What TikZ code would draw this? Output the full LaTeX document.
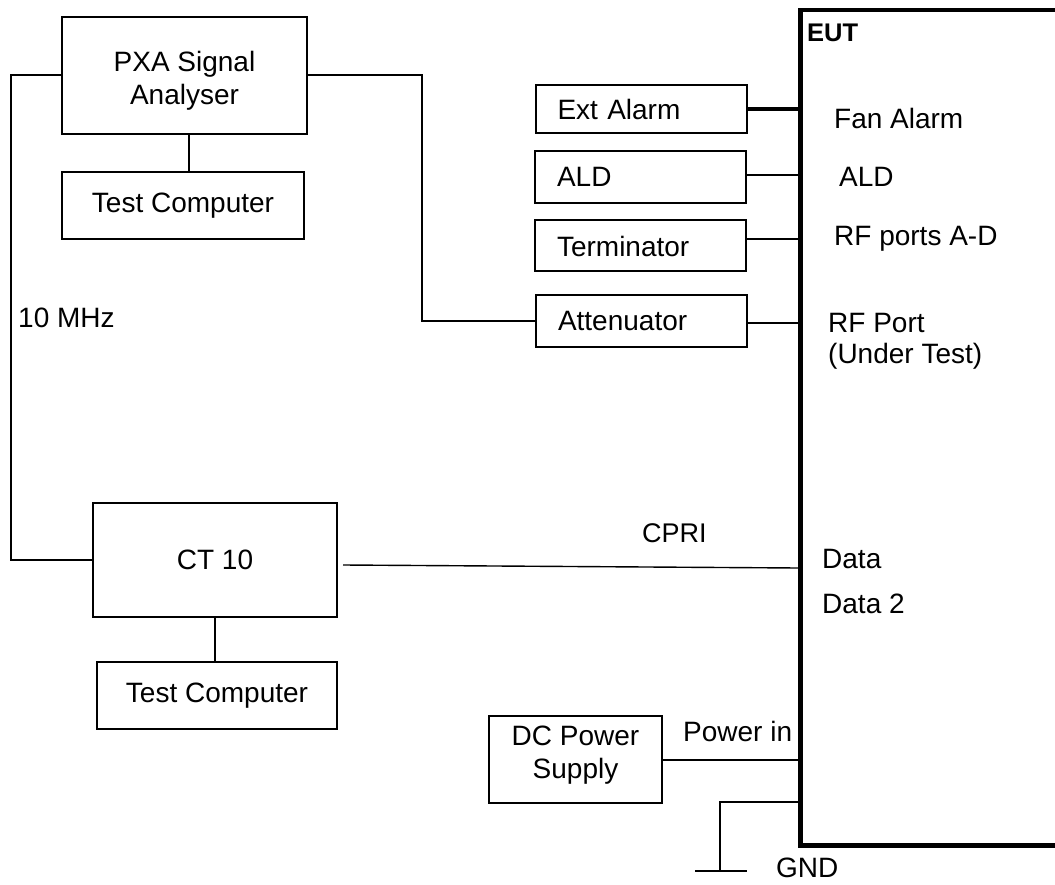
\documentclass[tikz,border=0pt]{standalone}
\usepackage{fontspec}
\setmainfont{Liberation Sans}
\begin{document}
\begin{tikzpicture}[x=1pt,y=-1pt, font=\fontsize{28}{33}\selectfont,
  box/.style={draw, line width=2pt, inner sep=0pt, align=center},
  txt/.style={inner sep=0pt, align=center},
  lbox/.style={draw, line width=2pt, inner xsep=22pt, inner ysep=0pt, text width=167pt, align=left, minimum width=211},
  wire/.style={line width=2pt},
  thinwire/.style={line width=1.4pt},
  lbl/.style={anchor=west, inner sep=0pt}]
\useasboundingbox[fill=white] (0,0) rectangle (1055,885);
\clip (0,0) rectangle (1055,885);

% left column
\node[box, minimum width=245, minimum height=117] (pxa) at (184.5,75.5) {};
\node[txt] (pxat) at (184.5,81) {PXA Signal\\Analyser};
\node[box, minimum width=242, minimum height=67] (tca) at (183,205.5) {Test Computer};
\node[box, minimum width=244, minimum height=114] (ct) at (215,560) {CT 10};
\node[box, minimum width=240, minimum height=67] (tcb) at (217,695.5) {Test Computer};

% accessory boxes
\node[lbox, minimum height=48] (extalarm) at (641,109) {Ext Alarm};
\node[lbox, minimum height=52] (ald) at (640.5,177) {ALD};
\node[lbox, minimum height=51] (term) at (640.5,246) {Terminator};
\node[lbox, minimum height=52] (atten) at (641.5,321) {Attenuator};
\node[box, minimum width=173, minimum height=87] (dcps) at (575.5,759.5) {};
\node[txt] (dcpst) at (575.5,755) {DC Power\\Supply};

% EUT
\node[draw, line width=4.5pt, minimum width=300, minimum height=835, anchor=north west, inner sep=0pt] (eut) at (798,8) {};
\node[lbl, font=\bfseries\fontsize{25.5}{30}\selectfont] (eutl) at (807,33) {EUT};
\node[lbl] (fan) at (834,118) {Fan Alarm};
\node[lbl] (aldl) at (839,177) {ALD};
\node[lbl] (rfad) at (834,239) {RF ports A-D};
\node[lbl] (rfp) at (828,323) {RF Port};
\node[lbl] (undt) at (828,356) {(Under Test)};
\node[lbl] (data) at (822,559) {Data};
\node[lbl] (data2) at (822,604) {Data 2};

% labels
\node[lbl] (mhz) at (18,318) {10 MHz};
\node[lbl, font=\fontsize{27}{32}\selectfont] (cpri) at (642,533) {CPRI};
\node[lbl] (pin) at (683,731) {Power in};
\node[lbl] (gnd) at (776,868) {GND};

% connectors
\draw[wire] ([xshift=4.5pt]pxa.south) -- ([xshift=4.5pt]pxa.south |- tca.north);
\draw[wire] (ct.south) -- (ct.south |- tcb.north);
\draw[wire] (pxa.west) -- ++(-50,0) |- (ct.west);
\draw[wire] (pxa.east) -- ++(114,0) |- (atten.west);

\draw[line width=4pt] (extalarm.east) -- (extalarm.east -| eut.west);
\draw[thinwire] ([yshift=2pt]ald.east) -- ([yshift=2pt]ald.east -| eut.west);
\draw[wire] ([yshift=7pt]term.east) -- ([yshift=7pt]term.east -| eut.west);
\draw[wire] ([yshift=-2pt]atten.east) -- ([yshift=-2pt]atten.east -| eut.west);

\coordinate (cpriend) at (798,568);
\draw[thinwire] ([xshift=5pt,yshift=-5pt]ct.east) -- (cpriend);

\draw[wire] (dcps.east) -- (dcps.east -| eut.west);

\coordinate (gtop) at (798,802);
\coordinate (gbot) at (720,871);
\coordinate (gl) at (695,871);
\coordinate (gr) at (747,871);
\draw[thinwire] (gtop) -| (gbot);
\draw[thinwire] (gl) -- (gr);
\end{tikzpicture}
\end{document}
